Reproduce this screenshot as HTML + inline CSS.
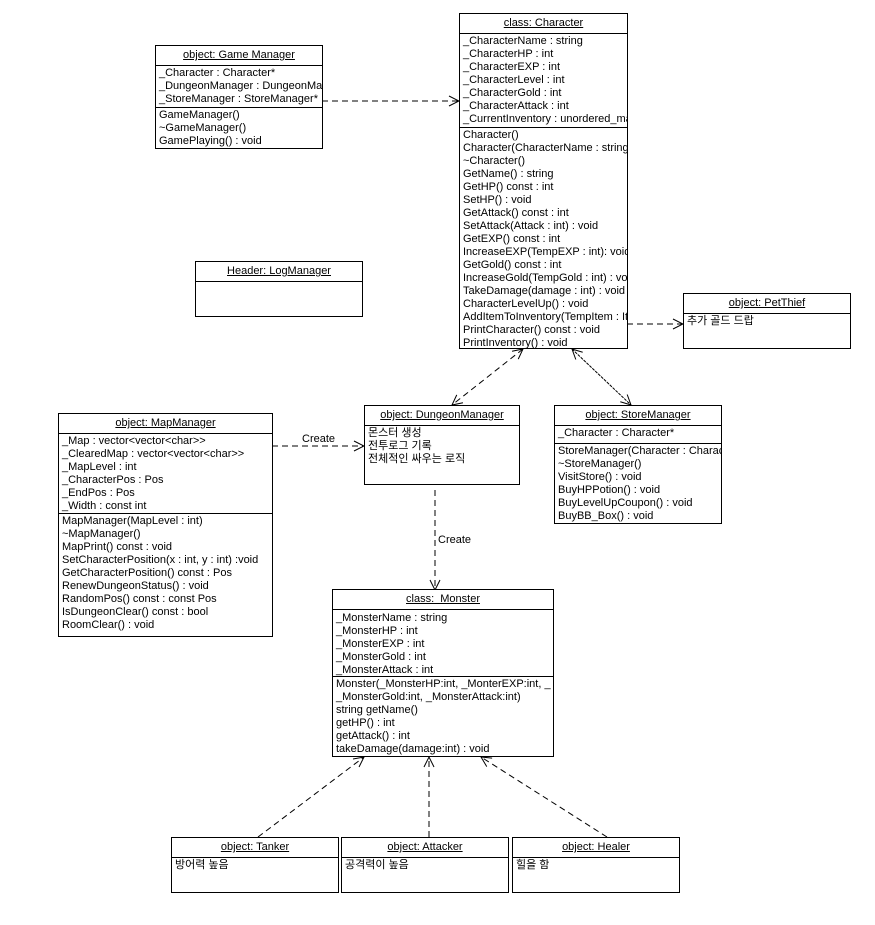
<!DOCTYPE html>
<html><head><meta charset="utf-8"><style>
body{margin:0;width:875px;height:925px;background:#fff;position:relative;overflow:hidden;font-family:"Liberation Sans","Noto Sans CJK KR",sans-serif;font-size:11px;color:#000}
.b{position:absolute;border:1px solid #000;background:#fff;box-sizing:border-box;overflow:hidden}
.h{position:absolute;left:0;right:0;top:0;text-align:center;text-decoration:underline;border-bottom:1px solid #000;box-sizing:border-box;line-height:19px;font-weight:normal}
.s{position:absolute;left:0;right:0;padding-left:3px;padding-top:1px;line-height:13px;white-space:nowrap;box-sizing:border-box}
.t{border-top:1px solid #000}
svg{position:absolute;left:0;top:0}
</style></head><body>
<svg width="875" height="925" viewBox="0 0 875 925">
<defs><marker id="a" markerWidth="12" markerHeight="12" refX="11" refY="6" orient="auto" markerUnits="userSpaceOnUse"><path d="M1,1 L11,6 L1,11" fill="none" stroke="#000"/></marker>
<marker id="s" markerWidth="12" markerHeight="12" refX="1" refY="6" orient="auto" markerUnits="userSpaceOnUse"><path d="M11,1 L1,6 L11,11" fill="none" stroke="#000"/></marker></defs>
<g stroke="#000" fill="none" stroke-dasharray="6,4">
<line x1="322" y1="101" x2="459" y2="101" marker-end="url(#a)"/>
<line x1="627" y1="324" x2="683" y2="324" marker-end="url(#a)"/>
<line x1="523" y1="349" x2="452" y2="405" marker-start="url(#s)" marker-end="url(#a)"/>
<line x1="572" y1="349" x2="631" y2="405" marker-start="url(#s)" marker-end="url(#a)" stroke-dasharray="3,1"/>
<line x1="272" y1="446" x2="364" y2="446" marker-end="url(#a)"/>
<line x1="435" y1="490" x2="435" y2="590" marker-end="url(#a)"/>
<line x1="258" y1="837" x2="364" y2="757" marker-end="url(#a)"/>
<line x1="429" y1="837" x2="429" y2="757" marker-end="url(#a)"/>
<line x1="607" y1="837" x2="481" y2="757" marker-end="url(#a)"/>
</g>
<text x="302" y="442" font-family="Liberation Sans" font-size="11">Create</text>
<text x="438" y="543" font-family="Liberation Sans" font-size="11">Create</text>
</svg>

<div class="b" style="left:459px;top:13px;width:169px;height:336px">
<div class="h" style="height:20px">class: Character</div>
<div class="s" style="top:20px">_CharacterName : string<br>_CharacterHP : int<br>_CharacterEXP : int<br>_CharacterLevel : int<br>_CharacterGold : int<br>_CharacterAttack : int<br>_CurrentInventory : unordered_map</div>
<div class="s t" style="top:113px">Character()<br>Character(CharacterName : string)<br>~Character()<br>GetName() : string<br>GetHP() const : int<br>SetHP() : void<br>GetAttack() const : int<br>SetAttack(Attack : int) : void<br>GetEXP() const : int<br>IncreaseEXP(TempEXP : int): void<br>GetGold() const : int<br>IncreaseGold(TempGold : int) : void<br>TakeDamage(damage : int) : void<br>CharacterLevelUp() : void<br>AddItemToInventory(TempItem : Item)<br>PrintCharacter() const : void<br>PrintInventory() : void</div>
</div>

<div class="b" style="left:155px;top:45px;width:168px;height:104px">
<div class="h" style="height:20px">object: Game Manager</div>
<div class="s" style="top:20px">_Character : Character*<br>_DungeonManager : DungeonManager*<br>_StoreManager : StoreManager*</div>
<div class="s t" style="top:61px">GameManager()<br>~GameManager()<br>GamePlaying() : void</div>
</div>

<div class="b" style="left:195px;top:261px;width:168px;height:56px">
<div class="h" style="height:20px">Header: LogManager</div>
</div>

<div class="b" style="left:683px;top:293px;width:168px;height:56px">
<div class="h" style="height:20px">object: PetThief</div>
<div class="s" style="top:20px">추가 골드 드랍</div>
</div>

<div class="b" style="left:58px;top:413px;width:215px;height:224px">
<div class="h" style="height:20px">object: MapManager</div>
<div class="s" style="top:20px">_Map : vector&lt;vector&lt;char&gt;&gt;<br>_ClearedMap : vector&lt;vector&lt;char&gt;&gt;<br>_MapLevel : int<br>_CharacterPos : Pos<br>_EndPos : Pos<br>_Width : const int</div>
<div class="s t" style="top:99px">MapManager(MapLevel : int)<br>~MapManager()<br>MapPrint() const : void<br>SetCharacterPosition(x : int, y : int) :void<br>GetCharacterPosition() const : Pos<br>RenewDungeonStatus() : void<br>RandomPos() const : const Pos<br>IsDungeonClear() const : bool<br>RoomClear() : void</div>
</div>

<div class="b" style="left:364px;top:405px;width:156px;height:80px">
<div class="h" style="height:20px">object: DungeonManager</div>
<div class="s" style="top:20px">몬스터 생성<br>전투로그 기록<br>전체적인 싸우는 로직</div>
</div>

<div class="b" style="left:554px;top:405px;width:168px;height:119px">
<div class="h" style="height:20px">object: StoreManager</div>
<div class="s" style="top:20px">_Character : Character*</div>
<div class="s t" style="top:37px">StoreManager(Character : Character*)<br>~StoreManager()<br>VisitStore() : void<br>BuyHPPotion() : void<br>BuyLevelUpCoupon() : void<br>BuyBB_Box() : void</div>
</div>

<div class="b" style="left:332px;top:589px;width:222px;height:168px">
<div class="h" style="height:20px">class: &nbsp;Monster</div>
<div class="s" style="top:21px">_MonsterName : string<br>_MonsterHP : int<br>_MonsterEXP : int<br>_MonsterGold : int<br>_MonsterAttack : int</div>
<div class="s t" style="top:86px">Monster(_MonsterHP:int, _MonterEXP:int, _<br>_MonsterGold:int, _MonsterAttack:int)<br>string getName()<br>getHP() : int<br>getAttack() : int<br>takeDamage(damage:int) : void</div>
</div>

<div class="b" style="left:171px;top:837px;width:168px;height:56px">
<div class="h" style="height:20px">object: Tanker</div>
<div class="s" style="top:20px">방어력 높음</div>
</div>
<div class="b" style="left:341px;top:837px;width:168px;height:56px">
<div class="h" style="height:20px">object: Attacker</div>
<div class="s" style="top:20px">공격력이 높음</div>
</div>
<div class="b" style="left:512px;top:837px;width:168px;height:56px">
<div class="h" style="height:20px">object: Healer</div>
<div class="s" style="top:20px">힐을 함</div>
</div>
</body></html>
